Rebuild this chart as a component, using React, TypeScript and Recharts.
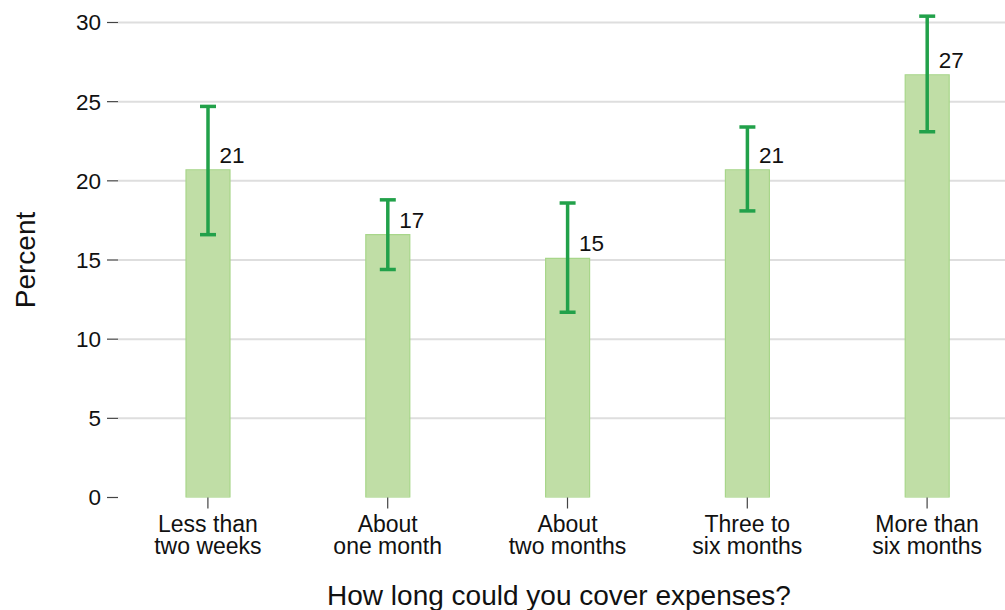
import { BarChart, Bar, XAxis, YAxis, CartesianGrid, ErrorBar, LabelList, Label } from "recharts";

const categories = [
  "Less than\ntwo weeks",
  "About\none month",
  "About\ntwo months",
  "Three to\nsix months",
  "More than\nsix months",
];
const percent = [20.7, 16.6, 15.1, 20.7, 26.7];
const lower = [16.6, 14.4, 11.7, 18.1, 23.1];
const upper = [24.7, 18.8, 18.6, 23.4, 30.4];
const yTicks = [0, 5, 10, 15, 20, 25, 30];

const FONT = '"Liberation Sans", Arial, Helvetica, sans-serif';

const data = categories.map((name, i) => ({
  name,
  value: percent[i],
  err: [percent[i] - lower[i], upper[i] - percent[i]],
}));

function CategoryTick(props: any) {
  const { x, y, payload } = props;
  const lines = String(payload.value).split("\n");
  return (
    <text x={x} y={y} textAnchor="middle" fontFamily={FONT} fontSize={23} fill="#111">
      {lines.map((l, i) => (
        <tspan key={i} x={x} dy={i === 0 ? 21 : 22.3}>
          {l}
        </tspan>
      ))}
    </text>
  );
}

function ValueLabel(props: any) {
  const { x, y, width, value } = props;
  return (
    <text x={x + width / 2 + 11.5} y={y - 7} textAnchor="start" fontFamily={FONT} fontSize={22.5} fill="#111">
      {Math.round(value)}
    </text>
  );
}

export default function App() {
  return (
    <div style={{ position: "absolute", left: 0, top: 0, width: 1005, height: 610, overflow: "hidden", background: "#fff" }}>
      <BarChart
        width={1017}
        height={610}
        data={data}
        margin={{ top: 22.5, right: 0, left: 0, bottom: 0 }}
        barSize={44}
      >
        <CartesianGrid vertical={false} horizontalValues={[5, 10, 15, 20, 25, 30]} stroke="#dedede" strokeWidth={2} />
        <XAxis
          dataKey="name"
          height={112.5}
          axisLine={false}
          tickSize={11}
          tickLine={{ stroke: "#444", strokeWidth: 1.2 }}
          tick={<CategoryTick />}
          interval={0}
        >
          <Label
            content={() => (
              <text x={559} y={605} textAnchor="middle" fontFamily={FONT} fontSize={28} fill="#111">
                How long could you cover expenses?
              </text>
            )}
          />
        </XAxis>
        <YAxis
          width={118}
          domain={[0, 30]}
          allowDataOverflow
          ticks={yTicks}
          axisLine={false}
          tickSize={11}
          tickMargin={6}
          tickLine={{ stroke: "#444", strokeWidth: 1.2 }}
          tick={{ fontFamily: FONT, fontSize: 22.5, fill: "#111" }}
        >
          <Label
            content={(p: any) => {
              const vb = p.viewBox || { y: 22.5, height: 475 };
              const cy = vb.y + vb.height / 2;
              return (
                <text
                  x={25}
                  y={cy}
                  transform={`rotate(-90 25 ${cy})`}
                  textAnchor="middle"
                  dominantBaseline="central"
                  fontFamily={FONT}
                  fontSize={28}
                  fill="#111"
                >
                  Percent
                </text>
              );
            }}
          />
        </YAxis>
        <Bar dataKey="value" fill="#c0dea6" stroke="#a8d68a" strokeWidth={1.2} isAnimationActive={false}>
          <ErrorBar dataKey="err" width={8} stroke="#22a14a" strokeWidth={3.5} direction="y" isAnimationActive={false} />
          <LabelList dataKey="value" content={<ValueLabel />} />
        </Bar>
      </BarChart>
    </div>
  );
}
